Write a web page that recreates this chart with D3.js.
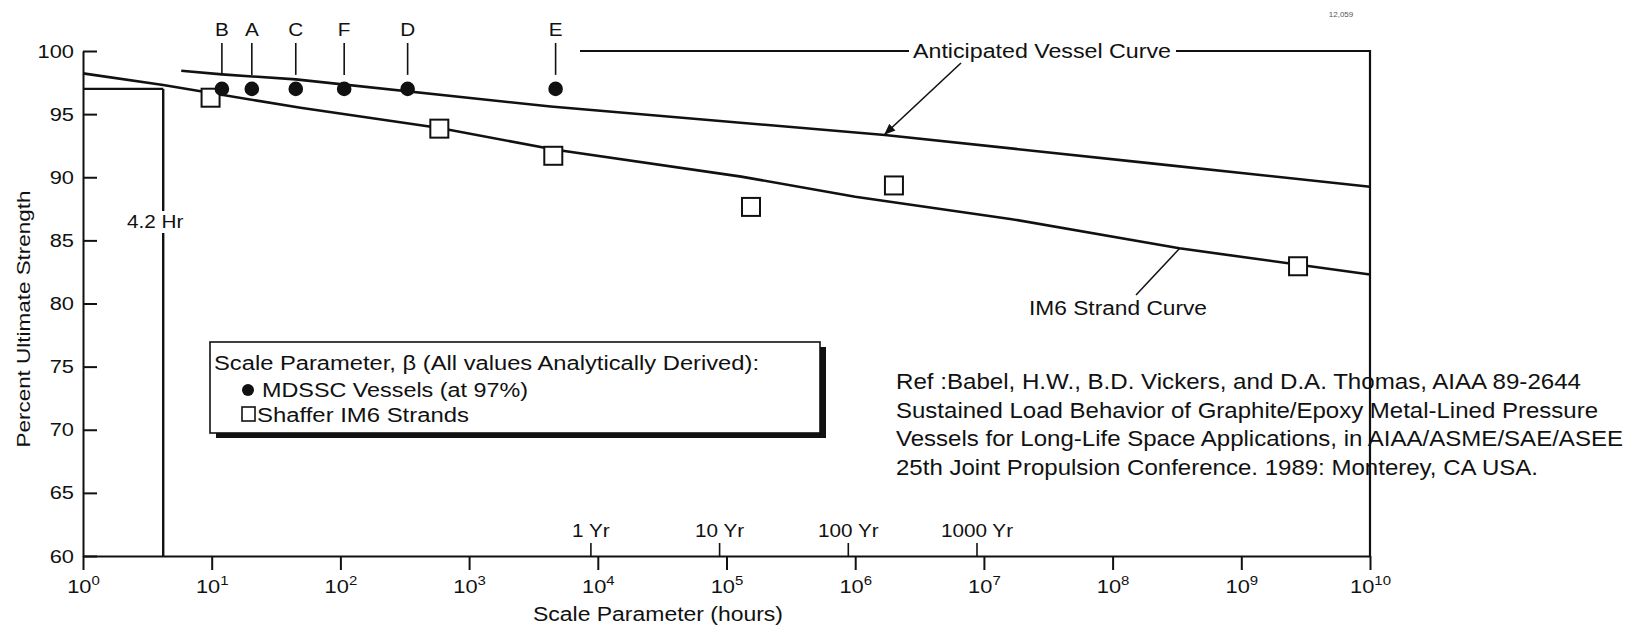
<!DOCTYPE html>
<html>
<head>
<meta charset="utf-8">
<script src="https://cdn.jsdelivr.net/npm/d3@7"></script>
<style>
  html, body { margin: 0; padding: 0; background: #fff; }
  svg { display: block; font-family: "Liberation Sans", Arial, Helvetica, sans-serif; }
</style>
</head>
<body>
<svg id="chart" width="1640" height="628"></svg>
<script>
// MDSSC vessel tests, scale parameter (hours) at 97% of ultimate strength
const vesselIds   = ["B", "A", "C", "F", "D", "E"];
const vesselHours = [12, 20.5, 45, 107, 333, 4700];
const vesselLevel = [97, 97, 97, 97, 97, 97];

// Shaffer IM6 strand results
const strandHours = [9.8, 587, 4510, 155000, 2.0e6, 2.76e9];
const strandLevel = [96.3, 93.85, 91.7, 87.65, 89.35, 82.95];

// IM6 strand curve
const im6Hours = [1, 4.2, 49, 590, 4570, 1.3e5, 1.0e6, 1.6e7, 3.3e8, 1e10];
const im6Level = [98.23, 97.3, 95.5, 93.9, 92.2, 90.05, 88.46, 86.7, 84.37, 82.3];

// Anticipated vessel curve
const vesselCurveHours = [5.8, 12, 45, 4300, 1.7e6, 2e8, 1e10];
const vesselCurveLevel = [98.44, 98.15, 97.75, 95.6, 93.35, 91.1, 89.25];

// 4.2 hour reference at 97%
const refHours = 4.2;
const refLevel = 97;

// Axis ticks
const decadeExponents = [0, 1, 2, 3, 4, 5, 6, 7, 8, 9, 10];
const yTickValues = [60, 65, 70, 75, 80, 85, 90, 95, 100];
const yearHours  = [8760, 87600, 876000, 8760000];
const yearLabels = ["1 Yr", "10 Yr", "100 Yr", "1000 Yr"];

// Citation
const refLines = [
  "Ref :Babel, H.W., B.D. Vickers, and D.A. Thomas, AIAA 89-2644",
  "Sustained Load Behavior of Graphite/Epoxy Metal-Lined Pressure",
  "Vessels for Long-Life Space Applications, in AIAA/ASME/SAE/ASEE",
  "25th Joint Propulsion Conference. 1989: Monterey, CA USA."
];
const refLineWidths = [685, 702, 727, 642];

const INK = "#111";
const svg = d3.select("#chart");

const x = d3.scaleLog().domain([1, 1e10]).range([83, 1370]);
const y = d3.scaleLinear().domain([60, 100]).range([556, 51]);

function label(parent, str, px, py, o = {}) {
  const t = parent.append("text")
    .attr("transform", `translate(${px},${py}) scale(${o.sx || 1},1)` + (o.rotate ? ` rotate(${o.rotate})` : ""))
    .attr("text-anchor", o.anchor || "start")
    .attr("font-size", o.size || 19)
    .attr("fill", INK)
    .text(str);
  if (o.len) t.attr("textLength", o.len).attr("lengthAdjust", "spacingAndGlyphs");
  return t;
}

// ---- citation block (drawn first, frame line passes over it)
const refG = svg.append("g");
refLines.forEach((s, i) => {
  label(refG, s, 896, 389 + i * 28.5, { size: 22, len: refLineWidths[i] });
});

// ---- legend box with drop shadow
const leg = svg.append("g");
leg.append("rect").attr("x", 216).attr("y", 347).attr("width", 610).attr("height", 91).attr("fill", INK);
leg.append("rect").attr("x", 210).attr("y", 342).attr("width", 610).attr("height", 91)
  .attr("fill", "#fff").attr("stroke", INK).attr("stroke-width", 1.6);
label(leg, "Scale Parameter, \u03B2 (All values Analytically Derived):", 214, 370, { size: 19.5, len: 545 });
leg.append("circle").attr("cx", 248).attr("cy", 390).attr("r", 6).attr("fill", INK);
label(leg, "MDSSC Vessels (at 97%)", 262, 396.5, { size: 19.5, len: 266 });
leg.append("rect").attr("x", 242).attr("y", 407).attr("width", 13).attr("height", 14)
  .attr("fill", "#fff").attr("stroke", INK).attr("stroke-width", 1.6);
label(leg, "Shaffer IM6 Strands", 257, 421.5, { size: 19.5, len: 212 });

// ---- x axis (decades, ticks below)
const xAxis = d3.axisBottom(x)
  .tickValues(decadeExponents.map(e => Math.pow(10, e)))
  .tickSizeInner(14).tickSizeOuter(0).tickFormat("");
const gx = svg.append("g").attr("transform", `translate(0,${y(60)})`).call(xAxis);
gx.select(".domain").attr("stroke", INK).attr("stroke-width", 2);
gx.selectAll(".tick line").attr("stroke", INK).attr("stroke-width", 2);
gx.selectAll(".tick text").remove();
gx.selectAll(".tick").append("text")
  .attr("transform", "translate(0,37) scale(1.15,1)")
  .attr("text-anchor", "middle")
  .attr("font-size", 19)
  .attr("fill", INK)
  .each(function (d) {
    const t = d3.select(this);
    t.append("tspan").text("10");
    t.append("tspan").attr("dy", -8).attr("font-size", 13).text(Math.round(Math.log10(d)));
  });

// ---- year ticks above the x axis
const yrAxis = d3.axisTop(x)
  .tickValues(yearHours).tickSizeInner(13).tickSizeOuter(0).tickPadding(6)
  .tickFormat((d, i) => yearLabels[i]);
const gyr = svg.append("g").attr("transform", `translate(0,${y(60)})`).call(yrAxis);
gyr.select(".domain").remove();
gyr.selectAll(".tick line").attr("stroke", INK).attr("stroke-width", 1.6);
gyr.selectAll(".tick text")
  .attr("font-size", 18).attr("fill", INK)
  .attr("transform", "scale(1.15,1)");

// ---- y axis (ticks pointing into the plot)
const yAxis = d3.axisLeft(y).tickValues(yTickValues).tickSizeInner(-14).tickSizeOuter(0).tickPadding(9);
const gy = svg.append("g").attr("transform", `translate(${x(1)},0)`).call(yAxis);
gy.select(".domain").attr("stroke", INK).attr("stroke-width", 2);
gy.selectAll(".tick line").attr("stroke", INK).attr("stroke-width", 2);
gy.selectAll(".tick text")
  .attr("x", null)
  .attr("transform", "translate(-9,0) scale(1.15,1)")
  .attr("font-size", 19).attr("fill", INK);
[gx, gyr, gy].forEach(g => g.attr("font-family", null).attr("font-size", null));

// ---- axis titles
label(svg, "Scale Parameter (hours)", 658, 621, { size: 19.5, anchor: "middle", len: 250 });
label(svg, "Percent Ultimate Strength", 29.5, 319, { size: 19, anchor: "middle", rotate: -90, len: 257 });

// ---- 4.2 hour reference lines
const refG2 = svg.append("g").attr("stroke", INK).attr("stroke-width", 2.4);
refG2.append("line").attr("x1", x(1)).attr("x2", x(refHours)).attr("y1", y(refLevel)).attr("y2", y(refLevel));
refG2.append("line").attr("x1", x(refHours)).attr("x2", x(refHours)).attr("y1", y(refLevel)).attr("y2", 211);
refG2.append("line").attr("x1", x(refHours)).attr("x2", x(refHours)).attr("y1", 233).attr("y2", y(60));
label(svg, "4.2 Hr", x(refHours) - 8, 228, { size: 18.5, anchor: "middle", sx: 1.12 });

// ---- curves
const line = d3.line().x(d => x(d[0])).y(d => y(d[1]));
svg.append("path")
  .datum(im6Hours.map((h, i) => [h, im6Level[i]]))
  .attr("d", line).attr("fill", "none").attr("stroke", INK).attr("stroke-width", 2.6);
svg.append("path")
  .datum(vesselCurveHours.map((h, i) => [h, vesselCurveLevel[i]]))
  .attr("d", line).attr("fill", "none").attr("stroke", INK).attr("stroke-width", 2.6);

// ---- strand squares
svg.append("g").selectAll("rect")
  .data(strandHours.map((h, i) => [h, strandLevel[i]]))
  .join("rect")
  .attr("x", d => x(d[0]) - 9).attr("y", d => y(d[1]) - 9)
  .attr("width", 18).attr("height", 18)
  .attr("fill", "#fff").attr("stroke", INK).attr("stroke-width", 2);

// ---- vessel dots with letter call-outs
const vg = svg.append("g");
const vData = vesselHours.map((h, i) => ({ h, v: vesselLevel[i], id: vesselIds[i] }));
vg.selectAll("line").data(vData).join("line")
  .attr("x1", d => x(d.h)).attr("x2", d => x(d.h))
  .attr("y1", 43).attr("y2", d => y(d.v) - 14)
  .attr("stroke", INK).attr("stroke-width", 1.6);
vg.selectAll("circle").data(vData).join("circle")
  .attr("cx", d => x(d.h)).attr("cy", d => y(d.v)).attr("r", 7.3).attr("fill", INK);
vData.forEach(d => label(vg, d.id, x(d.h), 35.5, { size: 18.5, anchor: "middle", sx: 1.12 }));

// ---- top call-out line, label and right frame
const fr = svg.append("g").attr("stroke", INK);
fr.append("line").attr("x1", 580).attr("x2", 909).attr("y1", 51).attr("y2", 51).attr("stroke-width", 1.8);
fr.append("line").attr("x1", 1176).attr("x2", x(1e10)).attr("y1", 51).attr("y2", 51).attr("stroke-width", 1.8);
fr.append("line").attr("x1", x(1e10)).attr("x2", x(1e10)).attr("y1", 50).attr("y2", y(60)).attr("stroke-width", 2.2);
label(svg, "Anticipated Vessel Curve", 913, 58, { size: 19.5, len: 258 });

// arrow to the anticipated vessel curve
const defs = svg.append("defs");
defs.append("marker").attr("id", "arrowHead")
  .attr("viewBox", "0 0 10 10").attr("refX", 9).attr("refY", 5)
  .attr("markerWidth", 7).attr("markerHeight", 7).attr("orient", "auto")
  .append("path").attr("d", "M0,1 L10,5 L0,9 Z").attr("fill", INK);
svg.append("line").attr("x1", 961).attr("y1", 63).attr("x2", 885).attr("y2", 134)
  .attr("stroke", INK).attr("stroke-width", 1.6).attr("marker-end", "url(#arrowHead)");

// IM6 strand curve label and leader
svg.append("line").attr("x1", 1136).attr("y1", 295).attr("x2", 1180).attr("y2", 248)
  .attr("stroke", INK).attr("stroke-width", 1.5);
label(svg, "IM6 Strand Curve", 1029, 315, { size: 19.5, len: 178 });

// drawing number in the corner
label(svg, "12,059", 1341, 17, { size: 8, anchor: "middle" }).attr("fill", "#555");
</script>
</body>
</html>
